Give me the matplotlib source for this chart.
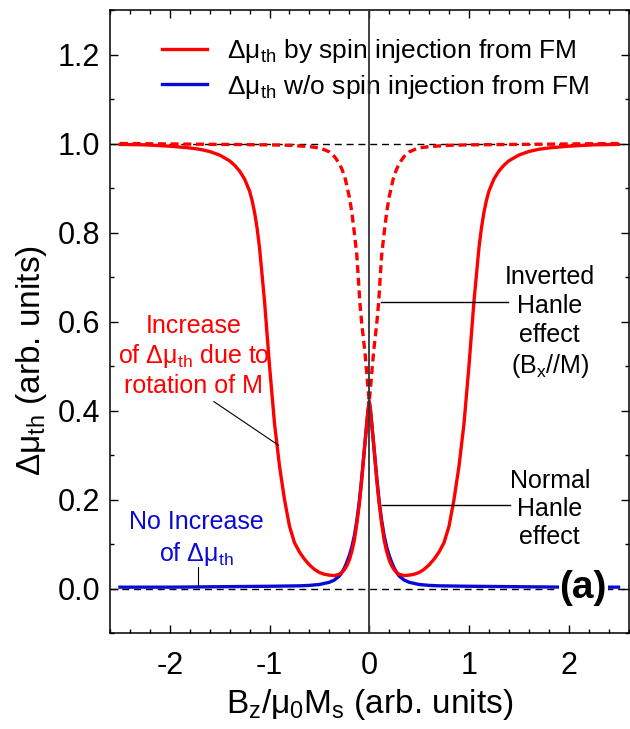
import matplotlib
matplotlib.use("Agg")
import matplotlib.pyplot as plt
from matplotlib.ticker import MultipleLocator

plt.rcParams['font.family'] = ['Liberation Sans', 'DejaVu Sans']
plt.rcParams['mathtext.fontset'] = 'custom'
plt.rcParams['mathtext.rm'] = 'Liberation Sans'
plt.rcParams['mathtext.it'] = 'Liberation Sans:italic'
plt.rcParams['mathtext.bf'] = 'Liberation Sans:bold'

# ---- data ----
b_red = [-2.5, -2.25, -2.0, -1.8, -1.7, -1.6, -1.5, -1.4, -1.35, -1.3, -1.25, -1.2, -1.175,
         -1.15, -1.125, -1.1, -1.05, -1.0, -0.95, -0.9, -0.85, -0.8, -0.75, -0.7, -0.65,
         -0.6, -0.55, -0.5, -0.45, -0.4, -0.35, -0.3, -0.275, -0.25, -0.225, -0.2, -0.175,
         -0.15, -0.125, -0.1, -0.0875, -0.075, -0.0625, -0.05, -0.0375, -0.025, -0.0125,
         0.0,
         0.0125, 0.025, 0.0375, 0.05, 0.0625, 0.075, 0.0875, 0.1, 0.125, 0.15, 0.175, 0.2,
         0.225, 0.25, 0.275, 0.3, 0.35, 0.4, 0.45, 0.5, 0.55, 0.6, 0.65, 0.7, 0.75, 0.8,
         0.85, 0.9, 0.95, 1.0, 1.05, 1.1, 1.125, 1.15, 1.175, 1.2, 1.25, 1.3, 1.35, 1.4,
         1.5, 1.6, 1.7, 1.8, 2.0, 2.25, 2.5]
v_red = [0.998, 0.997, 0.994, 0.99, 0.987, 0.982, 0.974, 0.961, 0.951, 0.938, 0.92, 0.893, 0.872,
         0.845, 0.81, 0.765, 0.645, 0.50, 0.37, 0.275, 0.20, 0.14, 0.103, 0.082, 0.066,
         0.053, 0.043, 0.036, 0.032, 0.030, 0.029, 0.032, 0.036, 0.042, 0.051, 0.064, 0.083,
         0.108, 0.145, 0.19, 0.216, 0.245, 0.277, 0.31, 0.34, 0.37, 0.40,
         0.42,
         0.40, 0.37, 0.34, 0.31, 0.277, 0.245, 0.216, 0.19, 0.145, 0.108, 0.083, 0.064,
         0.051, 0.042, 0.036, 0.032, 0.029, 0.030, 0.032, 0.036, 0.043, 0.053, 0.066, 0.082, 0.103, 0.14,
         0.20, 0.275, 0.37, 0.50, 0.645, 0.765, 0.81, 0.845, 0.872, 0.893, 0.92, 0.938, 0.951, 0.961,
         0.974, 0.982, 0.987, 0.99, 0.994, 0.997, 0.998]

b_blue = [-2.5, -2.0, -1.5, -1.0, -0.7, -0.6, -0.5, -0.4, -0.35, -0.3, -0.275, -0.25, -0.225,
          -0.2, -0.175, -0.15, -0.125, -0.1, -0.0875, -0.075, -0.0625, -0.05, -0.0375, -0.025,
          -0.0125,
          0.0,
          0.0125, 0.025, 0.0375, 0.05, 0.0625, 0.075, 0.0875, 0.1, 0.125, 0.15, 0.175, 0.2,
          0.225, 0.25, 0.275, 0.3, 0.35, 0.4, 0.5, 0.6, 0.7, 1.0, 1.5, 2.0, 2.5]
v_blue = [0.003, 0.003, 0.004, 0.005, 0.006, 0.007, 0.009, 0.014, 0.019, 0.028, 0.036, 0.046, 0.059,
          0.074, 0.093, 0.118, 0.152, 0.195, 0.222, 0.25, 0.28, 0.31, 0.34, 0.37,
          0.40,
          0.42,
          0.40, 0.37, 0.34, 0.31, 0.28, 0.25, 0.222, 0.195, 0.152, 0.118, 0.093, 0.074,
          0.059, 0.046, 0.036, 0.028, 0.019, 0.014, 0.009, 0.007, 0.006, 0.005, 0.004, 0.003, 0.003]

b_inv = [-2.5, -2.0, -1.5, -1.0, -0.8, -0.6, -0.5, -0.45, -0.4, -0.35, -0.3, -0.27, -0.24,
         -0.22, -0.2, -0.175, -0.15, -0.125, -0.11, -0.095, -0.075, -0.06, -0.045, -0.03,
         -0.02, -0.01,
         0.0,
         0.01, 0.02, 0.03, 0.045, 0.06, 0.075, 0.095, 0.11, 0.125, 0.15, 0.175, 0.2, 0.22,
         0.24, 0.27, 0.3, 0.35, 0.4, 0.45, 0.5, 0.6, 0.8, 1.0, 1.5, 2.0, 2.5]
v_inv = [1.0, 0.999, 0.998, 0.997, 0.996, 0.993, 0.99, 0.986, 0.981, 0.971, 0.955, 0.94, 0.92,
         0.90, 0.88, 0.846, 0.80, 0.75, 0.70, 0.645, 0.595, 0.565, 0.535, 0.497,
         0.47, 0.445,
         0.42,
         0.445, 0.47, 0.497, 0.535, 0.565, 0.595, 0.645, 0.70, 0.75, 0.80, 0.846, 0.88, 0.90,
         0.92, 0.94, 0.955, 0.971, 0.981, 0.986, 0.99, 0.993, 0.996, 0.997, 0.998, 0.999, 1.0]

x_ticks = [-2, -1, 0, 1, 2]
y_ticks = [0.0, 0.2, 0.4, 0.6, 0.8, 1.0, 1.2]

RED = '#ff0000'
BLUE = '#0a0ad8'

fig = plt.figure(figsize=(6.30, 7.29), dpi=100)
ax = fig.add_axes([110/630, 1-633/729, 518.5/630, 623/729])

ax.axhline(1.0, color='black', lw=1.0, ls=(0, (5, 3.5)), zorder=2)
ax.axhline(0.0, color='black', lw=1.0, ls=(0, (5, 3.5)), zorder=2)

ax.plot(b_blue, v_blue, color=BLUE, lw=2.4, zorder=3,
        label='Δμ$_{\\mathrm{th}}$ w/o spin injection from FM')
ax.plot(b_red, v_red, color=RED, lw=2.4, zorder=4,
        label='Δμ$_{\\mathrm{th}}$ by spin injection from FM')
ax.plot(b_inv, v_inv, color=RED, lw=2.4, ls=(0, (2.4, 1.4)), zorder=4)
ax.axvline(0.0, color='#333333', lw=1.3, zorder=6)

ax.set_xlim(-2.6, 2.6)
ax.set_ylim(-0.1, 1.3)
ax.set_xticks(x_ticks)
ax.set_xticklabels([str(t) for t in x_ticks])
ax.set_yticks(y_ticks)
ax.set_yticklabels([f'{t:.1f}' for t in y_ticks])
ax.xaxis.set_minor_locator(MultipleLocator(0.2))
ax.yaxis.set_minor_locator(MultipleLocator(0.1))
ax.tick_params(which='both', direction='in', top=True, right=True, width=1.0, labelsize=22)
ax.tick_params(axis='x', which='major', pad=13)
ax.tick_params(axis='y', which='major', pad=7)
ax.tick_params(which='major', length=6)
ax.tick_params(which='minor', length=3)
for s in ax.spines.values():
    s.set_linewidth(1.1)

ax.set_xlabel('B$_{\\mathrm{z}}$/μ$_{\\mathrm{0}}$M$_{\\mathrm{s}}$ (arb. units)', fontsize=24, labelpad=4)
ax.set_ylabel('Δμ$_{\\mathrm{th}}$ (arb. units)', fontsize=24)
ax.yaxis.set_label_coords(-0.118, 0.438)

handles, labels = ax.get_legend_handles_labels()
leg = ax.legend(handles[::-1], labels[::-1], loc='upper left', bbox_to_anchor=(0.1, 0.957),
                frameon=False, fontsize=19, handlelength=1.7, handletextpad=0.75,
                labelspacing=0.3, borderpad=0, borderaxespad=0)

# annotations
ax.text(-1.76, 0.522, 'Increase\nof Δμ$_{\\mathrm{th}}$ due to\nrotation of M', color=RED,
        fontsize=18, ha='center', va='center', linespacing=1.2)
ax.plot([-1.558, -0.911], [0.42, 0.322], color='black', lw=0.8, zorder=5)

ax.text(-1.73, 0.111, 'No Increase\nof Δμ$_{\\mathrm{th}}$', color=BLUE,
        fontsize=18, ha='center', va='center', linespacing=1.25)
ax.plot([-1.715, -1.715], [0.049, 0.0075], color='black', lw=0.8, zorder=5)

ax.text(1.81, 0.598, 'Inverted\nHanle\neffect\n(B$_{\\mathrm{x}}$//M)', color='black',
        fontsize=18, ha='center', va='center', linespacing=1.25)
ax.plot([0.117, 1.39], [0.644, 0.644], color='black', lw=1.0, zorder=5)

ax.text(1.81, 0.178, 'Normal\nHanle\neffect', color='black',
        fontsize=18, ha='center', va='center', linespacing=1.2)
ax.plot([0.127, 1.407], [0.187, 0.187], color='black', lw=1.0, zorder=5)

ax.text(2.145, 0.0, '(a)', fontsize=28, fontweight='bold', ha='center', va='center',
        zorder=7, bbox=dict(facecolor='white', edgecolor='none', pad=0.5))

fig.savefig('out.png', dpi=100)
